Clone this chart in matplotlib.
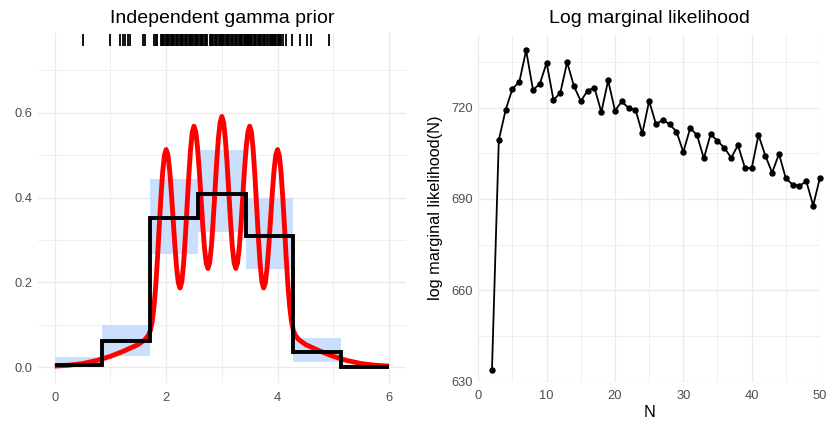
import matplotlib
matplotlib.use("Agg")
import matplotlib.pyplot as plt
import matplotlib.transforms as mtransforms

plt.rcParams['font.family'] = ['Liberation Sans', 'DejaVu Sans']

# ---------------- data: left panel ----------------
bin_edges = [0.0, 0.857, 1.714, 2.571, 3.429, 4.286, 5.143, 6.0]
band_low = [0.000, 0.027, 0.267, 0.320, 0.232, 0.0125, 0.000]
band_high = [0.025, 0.099, 0.444, 0.511, 0.399, 0.069, 0.006]
step_values = [0.005, 0.061, 0.352, 0.409, 0.310, 0.037, 0.001]

curve_x = [0.0, 0.25, 0.5, 0.75, 1.0, 1.25, 1.5, 1.625, 1.6875, 1.71875,
           1.75, 1.78125, 1.8125, 1.84375, 1.875, 1.90625, 1.9375, 1.96875,
           2.0, 2.03125, 2.0625, 2.09375, 2.125, 2.15625, 2.1875, 2.21875,
           2.25, 2.28125, 2.3125, 2.34375, 2.375, 2.40625, 2.4375, 2.46875,
           2.5, 2.53125, 2.5625, 2.59375, 2.625, 2.65625, 2.6875, 2.71875,
           2.75, 2.78125, 2.8125, 2.84375, 2.875, 2.90625, 2.9375, 2.96875,
           3.0, 3.03125, 3.0625, 3.09375, 3.125, 3.15625, 3.1875, 3.21875,
           3.25, 3.28125, 3.3125, 3.34375, 3.375, 3.40625, 3.4375, 3.46875,
           3.5, 3.53125, 3.5625, 3.59375, 3.625, 3.65625, 3.6875, 3.71875,
           3.75, 3.78125, 3.8125, 3.84375, 3.875, 3.90625, 3.9375, 3.96875,
           4.0, 4.03125, 4.0625, 4.09375, 4.125, 4.15625, 4.1875, 4.21875,
           4.25, 4.28125, 4.3125, 4.375, 4.5, 4.75, 5.0, 5.25, 5.5, 5.75, 6.0]
curve_y = [0.003, 0.005, 0.009, 0.016, 0.026, 0.039, 0.054, 0.066, 0.077, 0.088,
           0.108, 0.142, 0.19, 0.255, 0.33, 0.40, 0.46, 0.499,
           0.513, 0.501, 0.465, 0.412, 0.350, 0.288, 0.235, 0.199,
           0.187, 0.2015, 0.243, 0.305, 0.378, 0.450, 0.512, 0.554,
           0.568, 0.555, 0.519, 0.465, 0.401, 0.336, 0.282, 0.246,
           0.233, 0.247, 0.285, 0.344, 0.412, 0.481, 0.539, 0.577,
           0.591, 0.577, 0.539, 0.481, 0.412, 0.344, 0.285, 0.247,
           0.233, 0.246, 0.282, 0.336, 0.401, 0.465, 0.519, 0.555,
           0.568, 0.554, 0.512, 0.450, 0.378, 0.305, 0.243, 0.2015,
           0.187, 0.199, 0.235, 0.288, 0.350, 0.412, 0.465, 0.501,
           0.513, 0.499, 0.46, 0.40, 0.33, 0.255, 0.19, 0.142,
           0.108, 0.088, 0.077, 0.066, 0.054, 0.039, 0.026, 0.016, 0.009, 0.005, 0.003]

rug_x = [0.51, 0.99, 1.17, 1.22, 1.27, 1.31, 1.35, 1.59, 1.62, 1.78, 1.82, 1.84,
         1.90, 1.92, 1.95, 1.97, 1.99, 2.01, 2.03, 2.05, 2.08, 2.10, 2.12, 2.15,
         2.17, 2.19, 2.22, 2.24, 2.27, 2.29, 2.31, 2.34, 2.36, 2.38, 2.41, 2.43,
         2.45, 2.47, 2.49, 2.51, 2.53, 2.56, 2.58, 2.60, 2.62, 2.65, 2.67, 2.69,
         2.71, 2.73, 2.79, 2.81, 2.83, 2.85, 2.87, 2.90, 2.92, 2.94, 2.96, 2.98,
         3.00, 3.02, 3.04, 3.07, 3.09, 3.11, 3.13, 3.16, 3.18, 3.20, 3.23, 3.25,
         3.27, 3.30, 3.32, 3.34, 3.36, 3.39, 3.41, 3.43, 3.45, 3.47, 3.49, 3.51,
         3.53, 3.55, 3.58, 3.60, 3.62, 3.64, 3.67, 3.69, 3.71, 3.74, 3.76, 3.78,
         3.81, 3.83, 3.86, 3.88, 3.90, 3.92, 3.94, 3.96, 3.98, 4.00, 4.02, 4.04,
         4.07, 4.10, 4.15, 4.26, 4.41, 4.53, 4.60, 4.93]

left_xticks = [0, 2, 4, 6]
left_yticks = [0.0, 0.2, 0.4, 0.6]
left_yticklabels = ["0.0", "0.2", "0.4", "0.6"]

# ---------------- data: right panel ----------------
N_values = list(range(2, 51))
log_ml = [633.8, 709.3, 719.2, 726.2, 728.4, 738.8, 725.8, 727.8, 734.7, 722.5,
          724.8, 734.9, 727.0, 722.1, 725.6, 726.5, 718.5, 728.9, 719.0, 722.0,
          719.8, 719.3, 711.5, 722.2, 714.5, 716.0, 714.5, 712.1, 705.4, 713.2,
          711.0, 703.3, 711.3, 709.0, 706.8, 703.5, 707.6, 700.3, 700.0, 711.0,
          704.2, 698.6, 704.8, 696.7, 694.7, 694.3, 695.8, 687.8, 697.0]
right_xticks = [0, 10, 20, 30, 40, 50]
right_yticks = [630, 660, 690, 720]

# ---------------- figure ----------------
W, H = 826, 424
fig = plt.figure(figsize=(W / 100, H / 100), dpi=100)

def px_axes(l, t, r, b):
    return fig.add_axes([l / W, (H - b) / H, (r - l) / W, (b - t) / H])

grid_col = '#EBEBEB'
tick_col = '#4D4D4D'

def style(ax):
    for s in ax.spines.values():
        s.set_visible(False)
    ax.set_axisbelow(True)
    ax.grid(True, which='major', color=grid_col, lw=1.0)
    ax.grid(True, which='minor', color=grid_col, lw=0.55)
    ax.tick_params(which='both', length=0)
    ax.tick_params(axis='both', which='major', labelsize=9.3, labelcolor=tick_col)
    ax.tick_params(axis='x', pad=6)
    ax.tick_params(axis='y', pad=4)

# Left panel
ax1 = px_axes(38, 33, 405.7, 383.3)
style(ax1)
for i in range(len(band_low)):
    ax1.bar(bin_edges[i], band_high[i] - band_low[i], bottom=band_low[i],
            width=bin_edges[i + 1] - bin_edges[i], align='edge',
            color='#CADFFB', edgecolor='none', zorder=1)
ax1.plot(curve_x, curve_y, color='#FF0000', lw=3.5, solid_capstyle='butt',
         solid_joinstyle='round', zorder=2)
ax1.stairs(step_values, bin_edges, baseline=None, color='black', lw=2.8, zorder=3)
trans = mtransforms.blended_transform_factory(ax1.transData, ax1.transAxes)
ax1.vlines(rug_x, 0.962, 0.997, transform=trans, color='black', lw=1.3, zorder=3)
ax1.set_xlim(-0.3, 6.3)
ax1.set_ylim(-0.0375, 0.7875)
ax1.set_xticks(left_xticks)
ax1.set_xticks([1, 3, 5], minor=True)
ax1.set_yticks(left_yticks)
ax1.set_yticklabels(left_yticklabels)
ax1.set_yticks([0.1, 0.3, 0.5, 0.7], minor=True)
ax1.set_title("Independent gamma prior", fontsize=14, pad=7)

# Right panel
ax2 = px_axes(478.3, 34.5, 820, 381.5)
style(ax2)
ax2.plot(N_values, log_ml, color='black', lw=1.3, marker='o', markersize=3.6,
         clip_on=False, zorder=3)
ax2.set_xlim(0, 50)
ax2.set_ylim(630, 744)
ax2.set_xticks(right_xticks)
ax2.set_xticks([5, 15, 25, 35, 45], minor=True)
ax2.set_yticks(right_yticks)
ax2.set_yticks([645, 675, 705, 735], minor=True)
ax2.set_title("Log marginal likelihood", fontsize=14, pad=8)
ax2.set_xlabel("N", fontsize=11.7, labelpad=2)
ax2.set_ylabel("log marginal likelihood(N)", fontsize=11.7, labelpad=6)

fig.savefig("out.png", dpi=100)
